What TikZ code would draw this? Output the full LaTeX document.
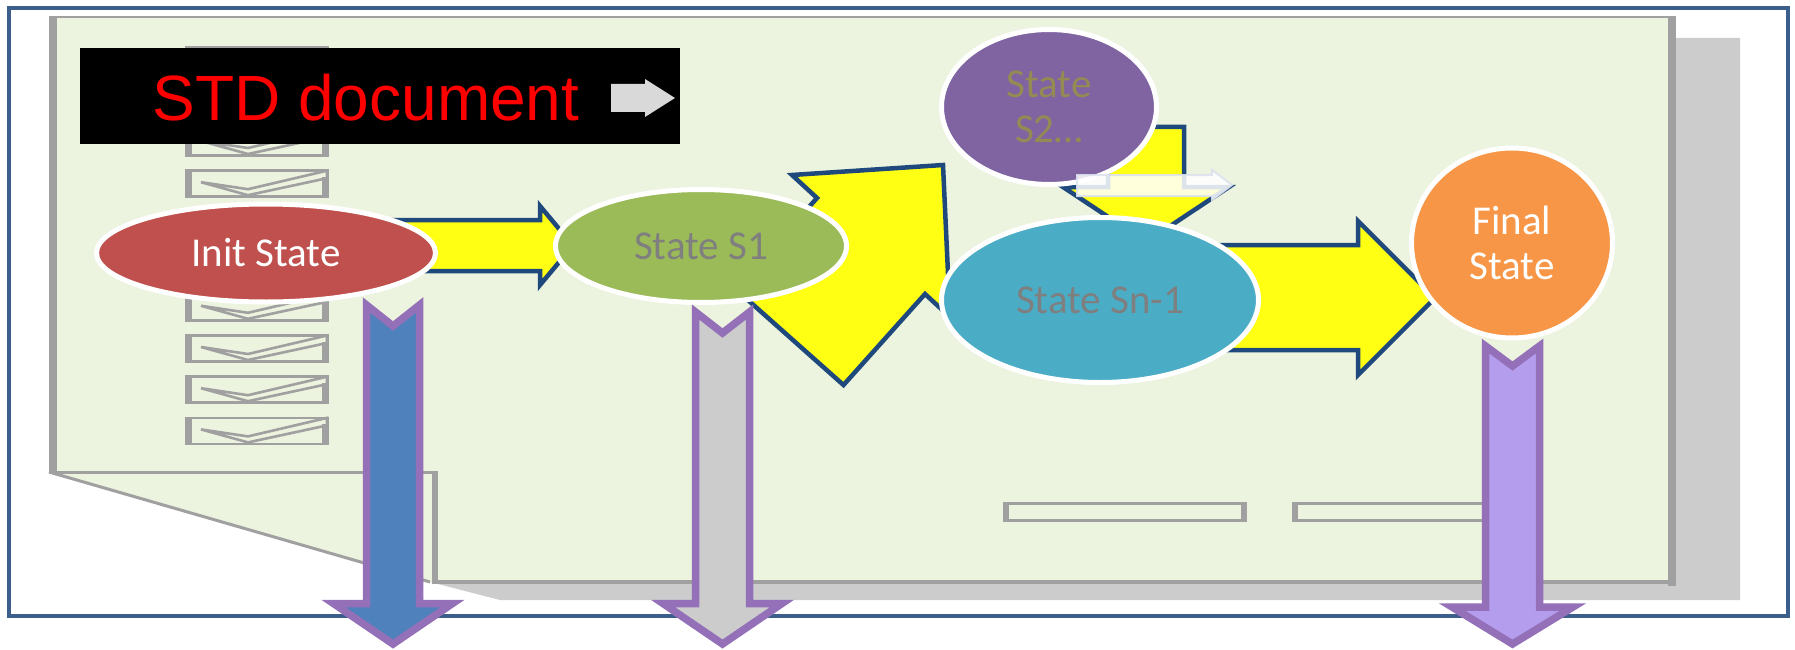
\documentclass[tikz,border=0pt]{standalone}
\usepackage{fontspec}
\setmainfont{Carlito}
\newfontfamily\arialfont{Liberation Sans}
\usetikzlibrary{shapes.geometric}
\definecolor{pagegreen}{HTML}{ECF3DE}
\definecolor{shadowgray}{HTML}{CCCCCC}
\definecolor{pagegray}{HTML}{A0A0A0}
\definecolor{frameblue}{HTML}{3B5E8C}
\definecolor{arrowyellow}{HTML}{FFFF14}
\definecolor{arrowblue}{HTML}{1F497D}
\definecolor{initred}{HTML}{C0504D}
\definecolor{sonegreen}{HTML}{9BBB59}
\definecolor{stwopurple}{HTML}{8064A2}
\definecolor{snblue}{HTML}{4BACC6}
\definecolor{finorange}{HTML}{F79646}
\definecolor{txtgray}{HTML}{7F7F7F}
\definecolor{olivetxt}{HTML}{948A54}
\definecolor{arrowpurple}{HTML}{9470B8}
\definecolor{blueA}{HTML}{4F81BD}
\definecolor{lavender}{HTML}{B59DEE}
\definecolor{graybox}{HTML}{D9D9D9}
\definecolor{whiteedge}{HTML}{DDE3EE}
\begin{document}
\begin{tikzpicture}[x=1pt,y=-1pt,
  state/.style={ellipse, draw=white, line width=5pt, inner sep=0pt, align=center,
    font=\fontsize{41}{45}\selectfont},
  yarrow/.style={fill=arrowyellow, draw=arrowblue, line width=4.5pt, line join=miter, miter limit=10},
  parrow/.style={draw=arrowpurple, line width=7.5pt, line join=miter, miter limit=4},
  chkbox/.style={draw=pagegray, line width=2.5pt},
  chkside/.style={draw=pagegray, line width=7pt},
  chk/.style={draw=pagegray, line width=2.6pt, line join=miter},
]
\useasboundingbox (0,0) rectangle (1795,650);
% outer frame
\draw[frameblue, line width=4.5pt] (9,8) rectangle (1788,616);
% page shadow
\fill[shadowgray] (1676,38) -- (1740,38) -- (1740,600) -- (500,600) -- (430,582) -- (1676,582) -- cycle;
% page
\fill[pagegreen] (53,17) -- (1672,17) -- (1672,582) -- (430,582) -- (53,472) -- cycle;
\draw[pagegray, line width=2.5pt] (49,17) -- (1672,17);
\draw[pagegray, line width=8pt] (53,16) -- (53,474);
\draw[pagegray, line width=8pt] (1672,16) -- (1672,586);
\draw[pagegray, line width=4pt] (432,582) -- (1676,582);
\draw[pagegray, line width=3pt] (49,472) -- (436,472);
\draw[pagegray, line width=6pt] (435,470.5) -- (435,582);
\draw[pagegray, line width=3pt] (49,472) -- (430,582);
% header line behind title
\draw[pagegray, line width=2.5pt] (186.5,47) rectangle (327.5,100);
% check boxes
\foreach \k in {0,...,7}{
  \pgfmathsetmacro\ty{128+41.2*\k}
  \draw[chkbox] (186.5,\ty+1.5) rectangle (327.5,\ty+27.5);
  \draw[chkside] (188.5,\ty+0.5) -- (188.5,\ty+28.5);
  \draw[chkside] (325.5,\ty+8) -- (325.5,\ty+28.5);
  \draw[chk] (201,\ty+13) -- (248,\ty+20) -- (327,\ty+1.5) -- (327,\ty+9) -- (248,\ty+26) -- cycle;
}
% title box
\node (stdbox) [fill=black, inner sep=0pt, minimum width=600pt, minimum height=96pt, anchor=north west] at (80,48) {};
\node (std) [anchor=base, text=red, inner sep=0pt, font=\arialfont\fontsize{64}{70}\selectfont] at (366,121) {STD document};
\fill[graybox] (611,84) -- (645,84) -- (645,79) -- (675,98) -- (645,117) -- (645,112) -- (611,112) -- cycle;
% yellow block arrows
\draw[yarrow] (380,220) -- (540,220) -- (540,206) -- (573,245.5) -- (540,285) -- (540,271) -- (380,271) -- cycle;
\draw[yarrow] (735.5,289) -- (817,198) -- (792,175) -- (943,165) -- (950,317) -- (925,294) -- (843.5,385) -- cycle;
\draw[yarrow] (1108,127) -- (1184,127) -- (1184,187) -- (1229,187) -- (1146,242) -- (1063,187) -- (1108,187) -- cycle;
\draw[yarrow] (1150,245) -- (1358,245) -- (1358,221) -- (1435,298) -- (1358,375) -- (1358,350) -- (1150,350) -- cycle;
% states
\node[state, fill=initred, text=white, minimum width=339pt, minimum height=98pt] (init) at (266,253) {Init State};
\node[state, fill=sonegreen, text=txtgray, minimum width=291pt, minimum height=113pt] (s1) at (701,246) {State S1};
\node[state, fill=stwopurple, text=olivetxt, minimum width=215pt, minimum height=155pt] (s2) at (1049,107) {State\\S2…};
\node[state, fill=snblue, text=txtgray, minimum width=317pt, minimum height=165pt] (sn) at (1100,300) {State Sn-1};
\node[state, fill=finorange, text=white, minimum width=201pt, minimum height=190pt] (fin) at (1512,243) {Final\\State};
% translucent white arrow
\draw[draw=whiteedge, line width=2pt, fill=white, fill opacity=0.85, draw opacity=0.9]
  (1077,175) -- (1212,175) -- (1212,170) -- (1232,185) -- (1212,200) -- (1212,196) -- (1077,196) -- cycle;
% bottom fields
\draw[pagegray, line width=2.5pt] (1004.5,503.5) rectangle (1245.5,520.5);
\draw[pagegray, line width=6pt] (1006,502.5) -- (1006,521.5);
\draw[pagegray, line width=6pt] (1244,502.5) -- (1244,521.5);
\draw[pagegray, line width=2.5pt] (1293.5,503.5) rectangle (1500,520.5);
\draw[pagegray, line width=6pt] (1295,502.5) -- (1295,521.5);
% purple notched down arrows
\draw[parrow, fill=blueA] (366.5,305) -- (393,326) -- (419.5,305) -- (419.5,603.5) -- (452.5,603.5) -- (393,644) -- (333.5,603.5) -- (366.5,603.5) -- cycle;
\draw[parrow, fill=shadowgray] (695.5,312) -- (722.5,333) -- (749.5,312) -- (749.5,603.5) -- (782,603.5) -- (722.5,644) -- (663,603.5) -- (695.5,603.5) -- cycle;
\draw[parrow, fill=lavender] (1485.5,346) -- (1512.5,366) -- (1539.5,346) -- (1539.5,607) -- (1573,607) -- (1512.5,644) -- (1452,607) -- (1485.5,607) -- cycle;
\end{tikzpicture}
\end{document}
